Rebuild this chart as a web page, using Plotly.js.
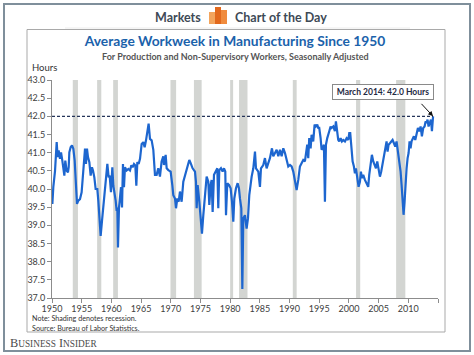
<!DOCTYPE html>
<html>
<head>
<meta charset="utf-8">
<script src="https://cdn.plot.ly/plotly-3.0.1.min.js"></script>
<style>
  html, body { margin: 0; padding: 0; background: #ffffff; }
  #chart { width: 474px; height: 355px; }
</style>
</head>
<body>
<div id="chart"></div>
<script>
// ---- Data ----
const years = [
  1950.06, 1950.22, 1950.51, 1950.79, 1950.95, 1951.12, 1951.35, 1951.52, 1951.74, 1951.91,
  1952.08, 1952.24, 1952.47, 1952.69, 1952.81, 1952.92, 1953.14, 1953.37, 1953.59, 1953.82,
  1954.04, 1954.21, 1954.43, 1954.71, 1954.99, 1955.16, 1955.39, 1955.56, 1955.72, 1955.89,
  1956.06, 1956.29, 1956.51, 1956.73, 1956.90, 1957.13, 1957.35, 1957.63, 1957.80, 1958.03,
  1958.19, 1958.42, 1958.64, 1958.81, 1959.09, 1959.32, 1959.54, 1959.71, 1959.93, 1960.16,
  1960.33, 1960.49, 1960.72, 1960.89, 1961.00, 1961.11, 1961.28, 1961.45, 1961.62, 1961.79,
  1961.95, 1962.12, 1962.29, 1962.57, 1962.85, 1963.13, 1963.36, 1963.58, 1963.81, 1964.03,
  1964.20, 1964.37, 1964.59, 1964.82, 1965.10, 1965.38, 1965.60, 1965.83, 1966.05, 1966.27,
  1966.50, 1966.78, 1967.06, 1967.34, 1967.62, 1967.90, 1968.18, 1968.46, 1968.74, 1968.86,
  1969.14, 1969.31, 1969.59, 1969.98, 1970.26, 1970.43, 1970.71, 1970.88, 1971.10, 1971.33,
  1971.55, 1971.83, 1972.11, 1972.39, 1972.79, 1973.12, 1973.35, 1973.68, 1974.08, 1974.24,
  1974.36, 1974.53, 1974.81, 1975.03, 1975.25, 1975.48, 1975.76, 1976.04, 1976.32, 1976.49,
  1976.71, 1976.88, 1977.05, 1977.28, 1977.56, 1977.84, 1978.00, 1978.17, 1978.45, 1978.73,
  1978.96, 1979.18, 1979.30, 1979.52, 1979.80, 1980.08, 1980.31, 1980.53, 1980.70, 1980.98,
  1981.26, 1981.48, 1981.65, 1981.88, 1982.05, 1982.21, 1982.49, 1982.77, 1983.00, 1983.22,
  1983.62, 1983.90, 1984.18, 1984.35, 1984.74, 1985.02, 1985.19, 1985.58, 1985.86, 1986.14,
  1986.42, 1986.70, 1987.04, 1987.26, 1987.55, 1987.83, 1988.11, 1988.39, 1988.67, 1988.95,
  1989.23, 1989.51, 1989.79, 1990.07, 1990.35, 1990.63, 1990.91, 1991.19, 1991.47, 1991.75,
  1992.03, 1992.31, 1992.59, 1992.76, 1992.98, 1993.15, 1993.32, 1993.55, 1993.71, 1993.99,
  1994.22, 1994.44, 1994.67, 1994.84, 1995.00, 1995.23, 1995.40, 1995.57, 1995.79, 1995.96,
  1996.13, 1996.35, 1996.52, 1996.69, 1996.91, 1997.08, 1997.36, 1997.64, 1997.81, 1998.04,
  1998.20, 1998.37, 1998.60, 1998.82, 1999.05, 1999.33, 1999.61, 1999.89, 2000.06, 2000.22,
  2000.45, 2000.62, 2000.84, 2001.01, 2001.18, 2001.40, 2001.63, 2001.85, 2002.02, 2002.19,
  2002.41, 2002.69, 2002.97, 2003.25, 2003.42, 2003.65, 2003.87, 2004.10, 2004.32, 2004.55,
  2004.77, 2004.99, 2005.22, 2005.44, 2005.67, 2005.89, 2006.12, 2006.34, 2006.51, 2006.68,
  2006.90, 2007.13, 2007.35, 2007.58, 2007.80, 2008.02, 2008.19, 2008.36, 2008.53, 2008.70,
  2008.87, 2009.04, 2009.20, 2009.37, 2009.54, 2009.71, 2009.88, 2010.05, 2010.21, 2010.38,
  2010.55, 2010.72, 2010.94, 2011.17, 2011.39, 2011.62, 2011.84, 2012.07, 2012.29, 2012.51,
  2012.74, 2012.91, 2013.08, 2013.24, 2013.41, 2013.64, 2013.81, 2013.98, 2014.17
];
const hours = [
  39.59, 40.05, 40.50, 41.29, 40.88, 41.06, 40.83, 41.01, 40.78, 40.50,
  40.37, 40.78, 40.50, 40.46, 40.60, 41.01, 41.15, 41.20, 41.11, 40.78,
  40.14, 39.59, 39.68, 39.72, 39.91, 40.32, 40.88, 41.11, 40.69, 41.11,
  40.88, 40.74, 40.37, 40.60, 40.51, 40.32, 40.00, 40.00, 39.68, 39.17,
  38.71, 39.12, 39.49, 39.86, 40.28, 40.69, 40.32, 40.37, 39.91, 40.60,
  40.09, 39.95, 39.68, 39.40, 39.49, 38.39, 39.49, 39.77, 40.05, 39.49,
  40.69, 40.05, 40.60, 40.51, 40.55, 40.51, 40.65, 40.60, 40.69, 40.65,
  40.09, 40.74, 40.69, 40.83, 41.24, 41.29, 41.15, 41.34, 41.52, 41.80,
  41.38, 41.34, 41.08, 40.39, 40.39, 40.57, 40.34, 40.76, 40.90, 40.66,
  40.94, 40.57, 40.52, 40.48, 40.11, 39.83, 39.74, 39.47, 39.74, 39.65,
  39.93, 39.65, 40.20, 40.39, 40.62, 40.80, 40.71, 40.57, 40.48, 40.20,
  39.47, 40.11, 39.65, 39.19, 38.77, 39.28, 39.74, 40.34, 40.20, 39.56,
  40.11, 40.25, 39.37, 40.39, 40.48, 40.57, 39.47, 40.52, 40.57, 40.48,
  40.57, 40.48, 39.28, 40.16, 40.11, 40.02, 39.65, 39.10, 39.74, 40.02,
  40.16, 40.02, 39.74, 39.47, 37.25, 39.19, 39.28, 38.91, 39.19, 39.83,
  40.34, 40.57, 41.03, 40.57, 40.48, 40.06, 40.57, 40.66, 40.85, 40.57,
  40.71, 40.85, 41.12, 40.90, 40.99, 41.08, 40.90, 41.08, 40.90, 41.12,
  40.99, 40.76, 40.62, 40.66, 40.62, 40.48, 40.20, 39.97, 40.25, 40.62,
  40.71, 40.80, 40.76, 41.03, 41.22, 40.85, 41.40, 41.12, 41.49, 41.31,
  41.77, 41.72, 41.77, 41.68, 41.68, 41.40, 41.08, 41.12, 41.22, 39.65,
  41.22, 41.40, 41.54, 41.59, 41.72, 41.68, 41.72, 41.59, 41.86, 41.49,
  41.35, 41.31, 41.40, 41.31, 41.35, 41.31, 41.40, 41.35, 41.54, 41.54,
  41.08, 40.76, 40.62, 40.43, 40.57, 40.30, 40.06, 40.20, 40.48, 40.30,
  40.39, 40.25, 40.16, 40.06, 40.39, 40.76, 40.94, 40.76, 40.66, 40.57,
  40.76, 40.48, 40.34, 40.48, 40.71, 40.94, 41.12, 41.31, 41.03, 41.22,
  41.26, 41.31, 41.35, 41.26, 41.17, 41.31, 41.12, 40.98, 40.76, 40.48,
  40.11, 39.75, 39.29, 39.65, 40.20, 40.57, 40.85, 40.99, 41.31, 41.12,
  41.31, 41.40, 41.45, 41.35, 41.54, 41.68, 41.59, 41.72, 41.45, 41.68,
  41.72, 41.86, 41.82, 41.91, 41.72, 41.86, 41.91, 41.59, 42.00
];
const recessionStart = [1953.50, 1957.60, 1960.30, 1969.95, 1973.90, 1980.00, 1981.50, 1990.55, 2001.20, 2007.95];
const recessionEnd   = [1954.37, 1958.30, 1961.10, 1970.90, 1975.20, 1980.50, 1982.92, 1991.20, 2001.90, 2009.50];
const xTickVals  = [1950, 1955, 1960, 1965, 1970, 1975, 1980, 1985, 1990, 1995, 2000, 2005, 2010, 2015];
const xTickText  = ['1950', '1955', '1960', '1965', '1970', '1975', '1980', '1985', '1990', '1995', '2000', '2005', '2010', ''];
const refLevel = 42.0;
const lastYear = 2014.17;
const calloutText = 'March 2014: 42.0 Hours';

// ---- Layout helpers (pixel -> paper) ----
const W = 474, H = 355;
const M = { l: 52, r: 36, t: 80, b: 57 };
const PW = W - M.l - M.r, PH = H - M.t - M.b;
const px = x => (x - M.l) / PW;
const py = y => (H - M.b - y) / PH;

const FONT = 'Lato, "Open Sans", sans-serif';

const shapes = [];
// outer frame
shapes.push({ type: 'rect', xref: 'paper', yref: 'paper', x0: px(4), x1: px(470), y0: py(351), y1: py(4),
  line: { color: '#7f8f9b', width: 2 }, fillcolor: 'rgba(0,0,0,0)', layer: 'below' });
// faint header rule
shapes.push({ type: 'line', xref: 'paper', yref: 'paper', x0: px(65), x1: px(410), y0: py(28), y1: py(28),
  line: { color: '#ececec', width: 1 }, layer: 'below' });
// inner panel
shapes.push({ type: 'rect', xref: 'paper', yref: 'paper', x0: px(27), x1: px(445), y0: py(332), y1: py(29.5),
  line: { color: '#a9a9a9', width: 1 }, fillcolor: 'rgba(0,0,0,0)', layer: 'below' });
// header icon bars
shapes.push({ type: 'rect', xref: 'paper', yref: 'paper', x0: px(209), x1: px(215), y0: py(24), y1: py(12),
  line: { width: 0 }, fillcolor: '#f3a55d' });
shapes.push({ type: 'rect', xref: 'paper', yref: 'paper', x0: px(215), x1: px(221), y0: py(24), y1: py(7),
  line: { width: 0 }, fillcolor: '#e2691d' });
shapes.push({ type: 'rect', xref: 'paper', yref: 'paper', x0: px(221), x1: px(227), y0: py(24), y1: py(10),
  line: { width: 0 }, fillcolor: '#f08b3d' });
// recession shading
for (let i = 0; i < recessionStart.length; i++) {
  shapes.push({ type: 'rect', xref: 'x', yref: 'paper', x0: recessionStart[i], x1: recessionEnd[i], y0: 0, y1: 1,
    line: { width: 0 }, fillcolor: '#d3d5d2', layer: 'below' });
}
// reference line at 42.0
shapes.push({ type: 'line', xref: 'x', yref: 'y', x0: 1950, x1: lastYear, y0: refLevel, y1: refLevel,
  line: { color: '#24345a', width: 1.2, dash: '3px,2px' } });

const annotations = [
  { xref: 'paper', yref: 'paper', x: px(203), y: py(17), xanchor: 'right', yanchor: 'middle', showarrow: false,
    text: '<b>Markets</b>', font: { family: FONT, size: 12.5, color: '#3e4a56' } },
  { xref: 'paper', yref: 'paper', x: px(233), y: py(17), xanchor: 'left', yanchor: 'middle', showarrow: false,
    text: '<b>Chart of the Day</b>', font: { family: FONT, size: 12.5, color: '#3e4a56' } },
  { xref: 'paper', yref: 'paper', x: px(235), y: py(56), xanchor: 'center', yanchor: 'middle', showarrow: false,
    text: '<b>For Production and Non-Supervisory Workers, Seasonally Adjusted</b>', font: { family: FONT, size: 9, color: '#555555' } },
  { xref: 'paper', yref: 'paper', x: px(30), y: py(67), xanchor: 'left', yanchor: 'middle', showarrow: false,
    text: 'Hours', font: { family: FONT, size: 9.5, color: '#333333' } },
  { xref: 'paper', yref: 'paper', x: px(30), y: py(318.8), xanchor: 'left', yanchor: 'middle', showarrow: false,
    text: 'Note: Shading denotes recession.', font: { family: FONT, size: 7.2, color: '#333333' } },
  { xref: 'paper', yref: 'paper', x: px(30), y: py(328), xanchor: 'left', yanchor: 'middle', showarrow: false,
    text: 'Source: Bureau of Labor Statistics.', font: { family: FONT, size: 7.2, color: '#333333' } },
  { xref: 'paper', yref: 'paper', x: px(8), y: py(343), xanchor: 'left', yanchor: 'middle', showarrow: false,
    text: 'B<span style="font-size:9.3px">USINESS</span> I<span style="font-size:9.3px">NSIDER</span>',
    font: { family: '"Liberation Serif", "DejaVu Serif", serif', size: 12.3, color: '#4a4a4a' } },
  // callout box
  { xref: 'paper', yref: 'paper', x: px(382.7), y: py(92.3), xanchor: 'center', yanchor: 'middle', showarrow: false,
    text: '<b>' + calloutText + '</b>', font: { family: FONT, size: 8.5, color: '#1f2a44' },
    bgcolor: '#ffffff', bordercolor: '#8a8a8a', borderwidth: 1, borderpad: 2, width: 96 },
  // callout arrow
  { xref: 'x', yref: 'y', x: lastYear, y: refLevel, ax: -13, ay: -14, axref: 'pixel', ayref: 'pixel',
    text: '', showarrow: true, arrowhead: 2, arrowsize: 1, arrowwidth: 1, arrowcolor: '#111111', standoff: 0 }
];

const trace = {
  type: 'scatter', mode: 'lines', x: years, y: hours,
  line: { color: '#1d66cf', width: 2.2 }, hoverinfo: 'skip'
};

const layout = {
  width: W, height: H,
  margin: M,
  paper_bgcolor: '#ffffff', plot_bgcolor: '#ffffff',
  showlegend: false,
  title: {
    text: '<b>Average Workweek in Manufacturing Since 1950</b>',
    x: 235 / W, xref: 'container', xanchor: 'center',
    y: 1 - 41 / H, yref: 'container', yanchor: 'middle',
    font: { family: FONT, size: 13.8, color: '#1b62ab' }
  },
  xaxis: {
    range: [1950, 2015], tickvals: xTickVals, ticktext: xTickText,
    ticks: 'outside', ticklen: 4, tickcolor: '#8c8c8c', showline: true, linecolor: '#8c8c8c', linewidth: 1,
    ticklabelstandoff: -2,
    showgrid: false, zeroline: false, tickfont: { family: FONT, size: 9, color: '#404040' }
  },
  yaxis: {
    range: [37, 43], dtick: 0.5, tick0: 37, tickformat: '.1f',
    ticks: 'outside', ticklen: 4, tickcolor: '#8c8c8c', showline: true, linecolor: '#8c8c8c', linewidth: 1,
    showgrid: false, zeroline: false, tickfont: { family: FONT, size: 9, color: '#404040' }
  },
  shapes: shapes,
  annotations: annotations
};

Plotly.newPlot('chart', [trace], layout, { staticPlot: true, displayModeBar: false });
</script>
</body>
</html>
